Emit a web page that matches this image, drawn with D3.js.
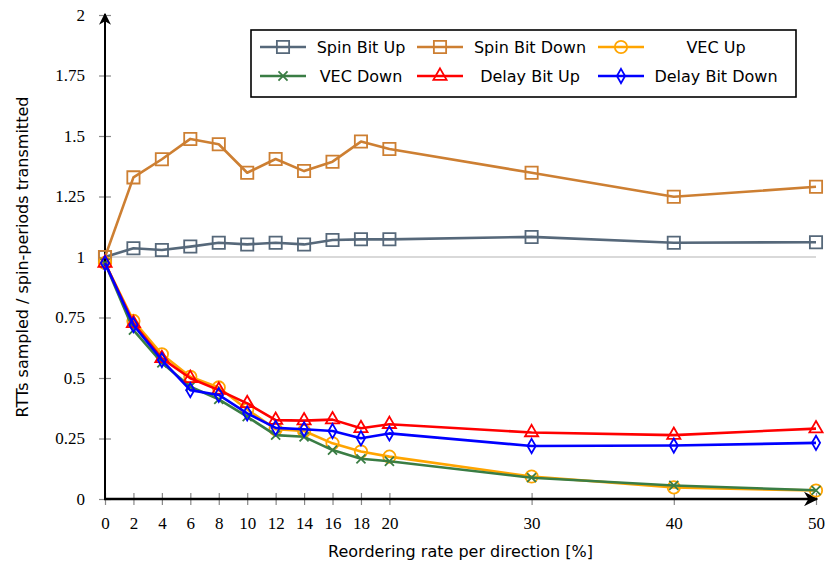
<!DOCTYPE html>
<html>
<head>
<meta charset="utf-8">
<script src="https://cdn.jsdelivr.net/npm/d3@7"></script>
<style>
  body { margin: 0; background: #fff; }
  svg text { fill: #000; }
  .lbl { font-family: 'DejaVu Sans', sans-serif; font-size: 16px; }
</style>
</head>
<body>
<svg id="chart" width="828" height="565"></svg>
<script>
// reordering rate per direction [%]
const rates = [0, 2, 4, 6, 8, 10, 12, 14, 16, 18, 20, 30, 40, 50]
const xTicks = [0, 2, 4, 6, 8, 10, 12, 14, 16, 18, 20, 30, 40, 50]
const yTicks = [0, 0.25, 0.5, 0.75, 1, 1.25, 1.5, 1.75, 2]

const spinUp    = [1.0, 1.036, 1.029, 1.043, 1.059, 1.052, 1.059, 1.052, 1.07, 1.073, 1.073, 1.083, 1.059, 1.061]
const spinDown  = [1.0, 1.329, 1.404, 1.488, 1.466, 1.348, 1.405, 1.355, 1.394, 1.477, 1.446, 1.348, 1.249, 1.29]
const vecUp     = [0.975, 0.736, 0.598, 0.505, 0.461, 0.37, 0.288, 0.281, 0.23, 0.196, 0.175, 0.093, 0.048, 0.035]
const vecDown   = [0.975, 0.698, 0.563, 0.464, 0.412, 0.34, 0.264, 0.257, 0.202, 0.166, 0.156, 0.088, 0.056, 0.036]
const delayUp   = [0.975, 0.726, 0.581, 0.499, 0.45, 0.395, 0.326, 0.324, 0.328, 0.292, 0.309, 0.275, 0.264, 0.291]
const delayDown = [0.975, 0.719, 0.574, 0.45, 0.43, 0.354, 0.294, 0.288, 0.281, 0.251, 0.271, 0.219, 0.221, 0.232]

const seriesNames  = ['Spin Bit Up', 'Spin Bit Down', 'VEC Up', 'VEC Down', 'Delay Bit Up', 'Delay Bit Down']
const seriesValues = [spinUp, spinDown, vecUp, vecDown, delayUp, delayDown]
const seriesColors = ['#56687a', '#cd7f32', '#ffa500', '#3a7d44', '#ff0000', '#0000ff']
const seriesMarks  = ['square', 'square', 'circle', 'times', 'triangle', 'diamond']

const svg = d3.select('#chart')
const plotLeft = 105, plotRight = 816, plotTop = 15, plotBottom = 499

const x = d3.scaleLinear().domain([0, 50]).range([plotLeft, plotRight])
const y = d3.scaleLinear().domain([0, 2]).range([plotBottom, plotTop])

const symbolOf = {
  square:   d3.symbol(d3.symbolSquare, 150),
  circle:   d3.symbol(d3.symbolCircle, 120),
  times:    d3.symbol(d3.symbolTimes || d3.symbolX, 55),
  triangle: d3.symbol(d3.symbolTriangle, 75),
  diamond:  d3.symbol(d3.symbolDiamond, 58)
}

const tickFont = "'Liberation Serif', 'DejaVu Serif', serif"

/* axes */
const yAxis = svg.append('g')
  .attr('transform', `translate(${plotLeft},0)`)
  .call(d3.axisLeft(y).tickValues(yTicks).tickFormat(d => d).tickSize(6).tickPadding(14))
yAxis.select('.domain').remove()
yAxis.selectAll('.tick line').attr('x1', 6).attr('x2', -6).attr('stroke', '#888').attr('stroke-width', 1.2)

const xAxis = svg.append('g')
  .attr('transform', `translate(0,${plotBottom})`)
  .call(d3.axisBottom(x).tickValues(xTicks).tickFormat(d => d).tickSize(6).tickPadding(12))
xAxis.select('.domain').remove()
xAxis.selectAll('.tick line').attr('y1', -6).attr('y2', 6).attr('stroke', '#888').attr('stroke-width', 1.2)

svg.selectAll('.tick text')
  .style('font-family', tickFont)
  .style('font-size', '17px')

// reference line at 1
svg.append('line')
  .attr('x1', x(0)).attr('x2', x(50))
  .attr('y1', y(1)).attr('y2', y(1))
  .attr('stroke', '#ccc').attr('stroke-width', 1.6)

// axis lines with arrows
svg.append('defs').append('marker')
  .attr('id', 'arrow').attr('viewBox', '0 0 10 10')
  .attr('refX', 9).attr('refY', 5)
  .attr('markerWidth', 6).attr('markerHeight', 6)
  .attr('orient', 'auto')
  .append('path').attr('d', 'M0,0 L10,5 L0,10 L3,5 Z').attr('fill', '#000')

svg.append('line')
  .attr('x1', plotLeft).attr('x2', plotLeft).attr('y1', plotBottom + 1).attr('y2', plotTop - 1)
  .attr('stroke', '#000').attr('stroke-width', 2).attr('marker-end', 'url(#arrow)')
svg.append('line')
  .attr('x1', plotLeft - 1).attr('x2', plotRight + 1).attr('y1', plotBottom).attr('y2', plotBottom)
  .attr('stroke', '#000').attr('stroke-width', 2.4).attr('marker-end', 'url(#arrow)')

/* series */
const line = d3.line().x((d, i) => x(rates[i])).y(d => y(d))

seriesValues.forEach((vals, s) => {
  const g = svg.append('g')
  g.append('path')
    .attr('d', line(vals))
    .attr('fill', 'none')
    .attr('stroke', seriesColors[s])
    .attr('stroke-width', 2.6)
    .attr('stroke-linejoin', 'round')
  g.selectAll('path.mark')
    .data(vals)
    .join('path')
    .attr('class', 'mark')
    .attr('d', symbolOf[seriesMarks[s]]())
    .attr('transform', (d, i) => `translate(${x(rates[i])},${y(d)})`)
    .attr('fill', 'none')
    .attr('stroke', seriesColors[s])
    .attr('stroke-width', 1.8)
})

/* axis titles */
svg.append('text')
  .attr('class', 'lbl')
  .attr('x', (plotLeft + plotRight) / 2).attr('y', 557)
  .attr('text-anchor', 'middle')
  .text('Reordering rate per direction [%]')

svg.append('text')
  .attr('class', 'lbl')
  .attr('transform', `translate(28,${y(1)}) rotate(-90)`)
  .attr('text-anchor', 'middle')
  .text('RTTs sampled / spin-periods transmitted')

/* legend */
const legend = svg.append('g')
legend.append('rect')
  .attr('x', 251).attr('y', 30).attr('width', 545).attr('height', 67)
  .attr('fill', '#fff').attr('stroke', '#000').attr('stroke-width', 1.6)

const colX = [260, 417, 598]
const colTextCenter = [361, 530, 716]
const rowY = [47, 76]

seriesNames.forEach((name, s) => {
  const c = s % 3, r = Math.floor(s / 3)
  const gx = colX[c], gy = rowY[r]
  legend.append('line')
    .attr('x1', gx).attr('x2', gx + 46).attr('y1', gy).attr('y2', gy)
    .attr('stroke', seriesColors[s]).attr('stroke-width', 2.6)
  legend.append('path')
    .attr('d', symbolOf[seriesMarks[s]]())
    .attr('transform', `translate(${gx + 23},${gy})`)
    .attr('fill', 'none').attr('stroke', seriesColors[s]).attr('stroke-width', 1.8)
  legend.append('text')
    .attr('class', 'lbl')
    .attr('x', colTextCenter[c]).attr('y', gy + 5.5)
    .attr('text-anchor', 'middle')
    .text(name)
})
</script>
</body>
</html>
